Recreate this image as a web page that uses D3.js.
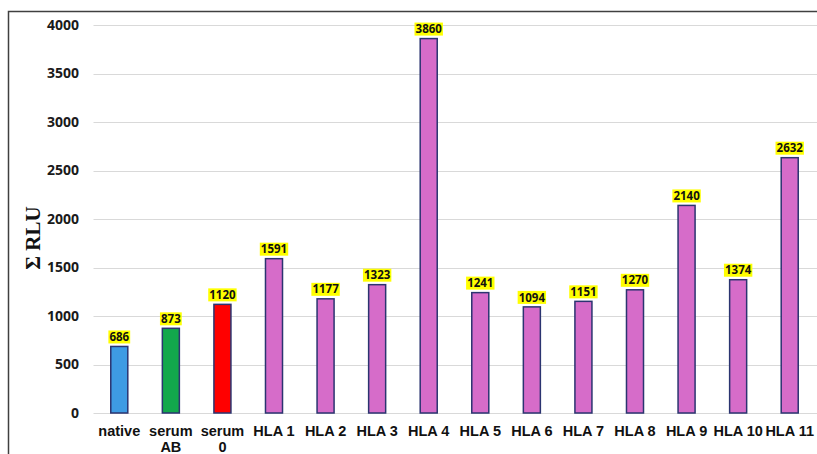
<!DOCTYPE html>
<html>
<head>
<meta charset="utf-8">
<script src="https://cdn.jsdelivr.net/npm/d3@7/dist/d3.min.js"></script>
<style>
  html, body { margin: 0; padding: 0; background: #fff; }
  svg { display: block; }
</style>
</head>
<body>
<svg id="chart" width="817" height="454"></svg>
<script>
// Sample groups along the x axis
const categories = ["native", "serum AB", "serum 0", "HLA 1", "HLA 2", "HLA 3", "HLA 4",
  "HLA 5", "HLA 6", "HLA 7", "HLA 8", "HLA 9", "HLA 10", "HLA 11"];
// Two-line axis labels for each category
const categoryLines = [["native"], ["serum", "AB"], ["serum", "0"], ["HLA 1"], ["HLA 2"], ["HLA 3"],
  ["HLA 4"], ["HLA 5"], ["HLA 6"], ["HLA 7"], ["HLA 8"], ["HLA 9"], ["HLA 10"], ["HLA 11"]];
// Summed luminescence per group
const values = [686, 873, 1120, 1591, 1177, 1323, 3860, 1241, 1094, 1151, 1270, 2140, 1374, 2632];
// Fill colour per group
const barColors = ["#3e9be3", "#12a84c", "#ff0000", "#d66cc9", "#d66cc9", "#d66cc9", "#d66cc9",
  "#d66cc9", "#d66cc9", "#d66cc9", "#d66cc9", "#d66cc9", "#d66cc9", "#d66cc9"];
const yTicks = [0, 500, 1000, 1500, 2000, 2500, 3000, 3500, 4000];

const svg = d3.select("#chart");

// Outer frame (left and top edges)
svg.append("path")
  .attr("d", "M8.5,460 V11.5 H820")
  .attr("fill", "none")
  .attr("stroke", "#404040")
  .attr("stroke-width", 1.5);

const plotLeft = 93.5, plotRight = 815.5;
const y = d3.scaleLinear().domain([0, 4000]).range([413, 25]);
const x = d3.scaleBand().domain(categories).range([plotLeft, plotRight]).paddingInner(0.67).paddingOuter(0.335);

// Gridlines
svg.append("g").selectAll("line").data(yTicks).join("line")
  .attr("x1", plotLeft).attr("x2", 817)
  .attr("y1", d => Math.round(y(d)) + 0.5).attr("y2", d => Math.round(y(d)) + 0.5)
  .attr("stroke", "#d9d9d9").attr("stroke-width", 1);

// Y axis tick labels
const yAxis = d3.axisLeft(y).tickValues(yTicks).tickFormat(d3.format("d")).tickSize(0).tickPadding(0);
const gy = svg.append("g").attr("transform", "translate(79,0)").call(yAxis);
gy.select(".domain").remove();
gy.selectAll("text")
  .attr("font-family", "'Open Sans', sans-serif")
  .attr("font-weight", "bold")
  .attr("font-size", 14)
  .attr("fill", "#1a1a1a");

// Y axis title
svg.append("text")
  .attr("transform", "translate(40,238) rotate(-90)")
  .attr("text-anchor", "middle")
  .attr("font-family", "'Liberation Serif', 'Times New Roman', serif")
  .attr("font-weight", "bold")
  .attr("font-size", 21)
  .attr("fill", "#111")
  .text("Σ RLU");

// Bars
svg.append("g").selectAll("rect").data(values).join("rect")
  .attr("x", (d, i) => x(categories[i]))
  .attr("width", x.bandwidth())
  .attr("y", d => y(d))
  .attr("height", d => y(0) - y(d))
  .attr("fill", (d, i) => barColors[i])
  .attr("stroke", "#2b3470")
  .attr("stroke-width", 1.5);

// Value labels with yellow highlight
const labels = svg.append("g").selectAll("g").data(values).join("g")
  .attr("transform", (d, i) => `translate(${x(categories[i]) + x.bandwidth() / 2},${y(d) - 9.5})`);
labels.append("rect")
  .attr("x", d => -(String(d).length * 6.6 + 2) / 2)
  .attr("width", d => String(d).length * 6.6 + 2)
  .attr("y", -6.5)
  .attr("height", 13)
  .attr("fill", "#ffff00");
labels.append("text")
  .attr("text-anchor", "middle")
  .attr("dy", "0.36em")
  .attr("font-family", "'Open Sans', sans-serif")
  .attr("font-weight", "bold")
  .attr("font-size", 11.5)
  .attr("fill", "#111")
  .text(d => d);

// X axis category labels
const xl = svg.append("g").selectAll("text").data(categories).join("text")
  .attr("x", d => x(d) + x.bandwidth() / 2)
  .attr("y", 436)
  .attr("text-anchor", "middle")
  .attr("font-family", "'Liberation Sans', Arial, sans-serif")
  .attr("font-weight", "bold")
  .attr("font-size", 14.5)
  .attr("fill", "#111");
xl.selectAll("tspan").data((d, i) => categoryLines[i].map((t, k) => ({ t, k }))).join("tspan")
  .attr("x", function () { return d3.select(this.parentNode).attr("x"); })
  .attr("dy", d => d.k === 0 ? 0 : 16)
  .text(d => d.t);
</script>
</body>
</html>
